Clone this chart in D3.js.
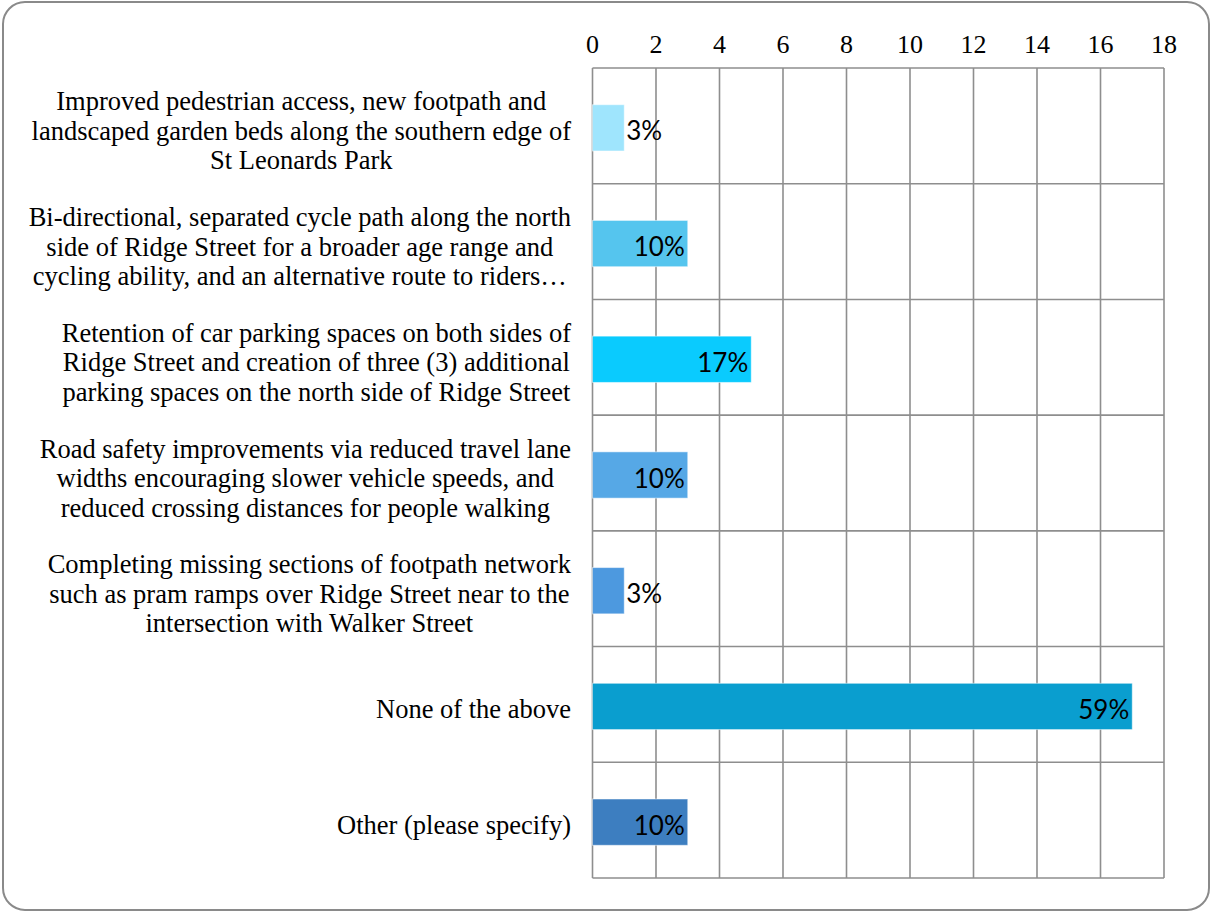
<!DOCTYPE html>
<html><head><meta charset="utf-8">
<script src="https://cdn.jsdelivr.net/npm/d3@7"></script>
<style>body{margin:0;background:#fff}svg{display:block}</style>
</head><body><svg id="c" width="1212" height="913"></svg>
<script>
const categories = [
  ["Improved pedestrian access, new footpath and","landscaped garden beds along the southern edge of","St Leonards Park"],
  ["Bi-directional, separated cycle path along the north","side of Ridge Street for a broader age range and","cycling ability, and an alternative route to riders…"],
  ["Retention of car parking spaces on both sides of","Ridge Street and creation of three (3) additional","parking spaces on the north side of Ridge Street"],
  ["Road safety improvements via reduced travel lane","widths encouraging slower vehicle speeds, and","reduced crossing distances for people walking"],
  ["Completing missing sections of footpath network","such as pram ramps over Ridge Street near to the","intersection with Walker Street"],
  ["None of the above"],
  ["Other (please specify)"]
];
const values = [1, 3, 5, 3, 1, 17, 3];
const percentLabels = ["3%","10%","17%","10%","3%","59%","10%"];
const colors = ["#9fe5fd","#55c5ee","#0acbfe","#56a8e6","#4d99df","#0a9ecf","#3d7ec0"];
const tickValues = [0,2,4,6,8,10,12,14,16,18];

const serif = "'Liberation Serif', Tinos, 'Times New Roman', serif";
const svg = d3.select("#c");
svg.append("rect").attr("x",3).attr("y",2).attr("width",1206).attr("height",908)
  .attr("rx",22).attr("fill","#fff").attr("stroke","#8a8a8a").attr("stroke-width",2);

const pLeft = 592.5, pRight = 1164, pTop = 68, pBottom = 878;
const x = d3.scaleLinear().domain([0,18]).range([pLeft,pRight]);
const y = d3.scaleBand().domain(d3.range(values.length)).range([pTop,pBottom]).paddingInner(0).paddingOuter(0);

const grid = svg.append("g");
grid.selectAll("line.v").data(tickValues).join("line")
  .attr("x1",d=>x(d)).attr("x2",d=>x(d)).attr("y1",pTop).attr("y2",pBottom)
  .attr("stroke","#8e8e8e").attr("stroke-width",1.6);
const rowEdges = d3.range(values.length+1).map(i => i < values.length ? y(i) : pBottom);
grid.selectAll("line.h").data(rowEdges).join("line")
  .attr("x1",pLeft).attr("x2",pRight).attr("y1",d=>d).attr("y2",d=>d)
  .attr("stroke","#8e8e8e").attr("stroke-width",1.6);

svg.append("g").selectAll("text").data(tickValues).join("text")
  .attr("x",d=>x(d)).attr("y",53).attr("text-anchor","middle")
  .attr("font-family",serif).attr("font-size",26)
  .attr("fill","#000").text(d=>d);

const bh = y.bandwidth()*0.4;
svg.append("g").selectAll("rect").data(values).join("rect")
  .attr("x",x(0)).attr("y",(d,i)=>y(i)+y.bandwidth()/2 - bh/2 + 2)
  .attr("width",d=>x(d)-x(0)).attr("height",bh)
  .attr("fill",(d,i)=>colors[i]).attr("stroke","rgba(255,255,255,0.5)").attr("stroke-width",1);

svg.append("g").selectAll("text").data(values).join("text")
  .attr("x",d=> d <= 1 ? x(d)+2 : x(d)-3)
  .attr("y",(d,i)=>y(i)+y.bandwidth()/2+14.5)
  .attr("text-anchor",d=> d<=1 ? "start" : "end")
  .attr("font-family","Lato, 'Open Sans', sans-serif").attr("font-size",26)
  .attr("fill","#000").text((d,i)=>percentLabels[i]);

const lblRight = 571, lh = 29.5;
categories.forEach((lines,i)=>{
  const g = svg.append("g");
  const cy = y(i)+y.bandwidth()/2+14;
  const texts = lines.map((t,k)=> g.append("text")
    .attr("font-family",serif).attr("font-size",26.5)
    .attr("fill","#000").attr("text-anchor","middle")
    .attr("y", cy + (k - (lines.length-1)/2)*lh).text(t));
  const w = d3.max(texts, t => t.node().getComputedTextLength());
  texts.forEach(t => t.attr("x", lblRight - w/2));
});
</script></body></html>
